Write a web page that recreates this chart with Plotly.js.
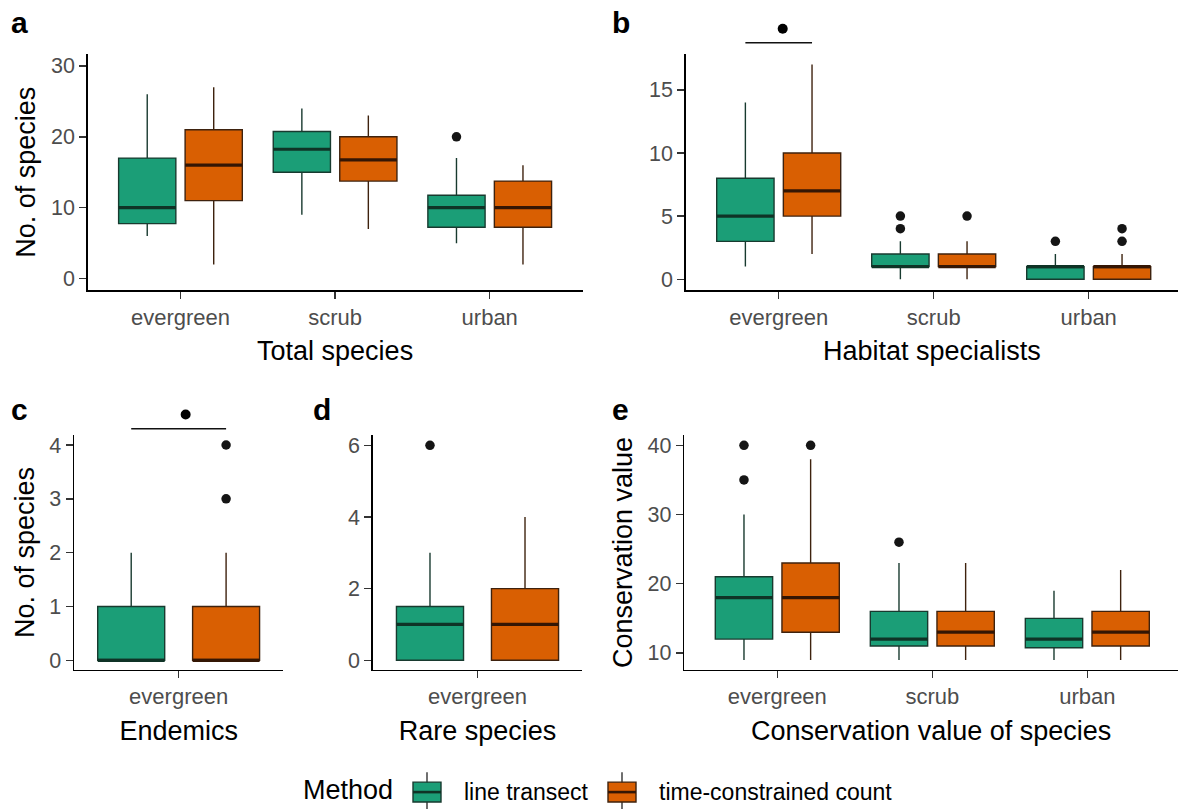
<!DOCTYPE html>
<html>
<head>
<meta charset="utf-8">
<script src="https://cdn.plot.ly/plotly-3.0.1.min.js"></script>
<style>html,body{margin:0;padding:0;background:#fff;}</style>
</head>
<body>
<div id="chart" style="width:1178px;height:812px;"></div>
<script>
// ---------------- data ----------------
const legendTitle = 'Method';
const methods = ['line transect', 'time-constrained count'];
const habitats = ['evergreen', 'scrub', 'urban'];
const habitatsEver = ['evergreen'];

// a: Total species
const aLtLow = [6, 9, 5], aLtQ1 = [7.75, 15, 7.25], aLtMed = [10, 18.25, 10], aLtQ3 = [17, 20.75, 11.75], aLtHigh = [26, 24, 17];
const aTcLow = [2, 7, 2], aTcQ1 = [11, 13.75, 7.25], aTcMed = [16, 16.75, 10], aTcQ3 = [21, 20, 13.75], aTcHigh = [27, 23, 16];
const aLtOutCat = ['urban'], aLtOutVal = [20];
const aTcOutCat = [], aTcOutVal = [];

// b: Habitat specialists
const bLtLow = [1, 0, 0], bLtQ1 = [3, 1, 0], bLtMed = [5, 1, 1], bLtQ3 = [8, 2, 1], bLtHigh = [14, 3, 2];
const bTcLow = [2, 0, 0], bTcQ1 = [5, 1, 0], bTcMed = [7, 1, 1], bTcQ3 = [10, 2, 1], bTcHigh = [17, 3, 2];
const bLtOutCat = ['scrub', 'scrub', 'urban'], bLtOutVal = [5, 4, 3];
const bTcOutCat = ['scrub', 'urban', 'urban'], bTcOutVal = [5, 4, 3];

// c: Endemics
const cLtLow = [0], cLtQ1 = [0], cLtMed = [0], cLtQ3 = [1], cLtHigh = [2];
const cTcLow = [0], cTcQ1 = [0], cTcMed = [0], cTcQ3 = [1], cTcHigh = [2];
const cLtOutCat = [], cLtOutVal = [];
const cTcOutCat = ['evergreen', 'evergreen'], cTcOutVal = [4, 3];

// d: Rare species
const dLtLow = [0], dLtQ1 = [0], dLtMed = [1], dLtQ3 = [1.5], dLtHigh = [3];
const dTcLow = [0], dTcQ1 = [0], dTcMed = [1], dTcQ3 = [2], dTcHigh = [4];
const dLtOutCat = ['evergreen'], dLtOutVal = [6];
const dTcOutCat = [], dTcOutVal = [];

// e: Conservation value of species
const eLtLow = [9, 9, 9], eLtQ1 = [12, 11, 10.75], eLtMed = [18, 12, 12], eLtQ3 = [21, 16, 15], eLtHigh = [30, 23, 19];
const eTcLow = [9, 9, 9], eTcQ1 = [13, 11, 11], eTcMed = [18, 13, 13], eTcQ3 = [23, 16, 16], eTcHigh = [38, 23, 22];
const eLtOutCat = ['evergreen', 'evergreen', 'scrub'], eLtOutVal = [40, 35, 26];
const eTcOutCat = ['evergreen'], eTcOutVal = [40];

// ---------------- styling / layout ----------------
const W = 1178, H = 812;
const FONT = 'Liberation Sans, Arial, sans-serif';
const fills = ['#1B9E77', '#D95F02'];
const outlines = ['#183a2f', '#3e220e'];
const medCols = ['#0f3326', '#341604'];

const panels = [
  { tag: 'a', xa: 'x', ya: 'y', cats: habitats, xr: [0.4, 3.6], yr: [-1.64, 31.63], xd: [87.7, 582.5], yd: [52.7, 290],
    off: 0.215, bw: 0.37, xt: 'Total species', yt: 'No. of species', yticks: [0, 10, 20, 30],
    lt: [aLtLow, aLtQ1, aLtMed, aLtQ3, aLtHigh, aLtOutCat, aLtOutVal], tc: [aTcLow, aTcQ1, aTcMed, aTcQ3, aTcHigh, aTcOutCat, aTcOutVal] },
  { tag: 'b', xa: 'x2', ya: 'y2', cats: habitats, xr: [0.4, 3.576], yr: [-0.87, 17.81], xd: [685.7, 1178], yd: [52.7, 290],
    off: 0.215, bw: 0.37, xt: 'Habitat specialists', yt: '', yticks: [0, 5, 10, 15],
    lt: [bLtLow, bLtQ1, bLtMed, bLtQ3, bLtHigh, bLtOutCat, bLtOutVal], tc: [bTcLow, bTcQ1, bTcMed, bTcQ3, bTcHigh, bTcOutCat, bTcOutVal] },
  { tag: 'c', xa: 'x3', ya: 'y3', cats: habitatsEver, xr: [0.4, 1.6], yr: [-0.17, 4.18], xd: [74, 283.3], yd: [436, 671.7],
    off: 0.272, bw: 0.384, xt: 'Endemics', yt: 'No. of species', yticks: [0, 1, 2, 3, 4],
    lt: [cLtLow, cLtQ1, cLtMed, cLtQ3, cLtHigh, cLtOutCat, cLtOutVal], tc: [cTcLow, cTcQ1, cTcMed, cTcQ3, cTcHigh, cTcOutCat, cTcOutVal] },
  { tag: 'd', xa: 'x4', ya: 'y4', cats: habitatsEver, xr: [0.4, 1.6], yr: [-0.26, 6.28], xd: [372.7, 582.3], yd: [436, 671.7],
    off: 0.272, bw: 0.384, xt: 'Rare species', yt: '', yticks: [0, 2, 4, 6],
    lt: [dLtLow, dLtQ1, dLtMed, dLtQ3, dLtHigh, dLtOutCat, dLtOutVal], tc: [dTcLow, dTcQ1, dTcMed, dTcQ3, dTcHigh, dTcOutCat, dTcOutVal] },
  { tag: 'e', xa: 'x5', ya: 'y5', cats: habitats, xr: [0.4, 3.585], yr: [7.6, 41.44], xd: [684.3, 1178], yd: [436, 671.7],
    off: 0.215, bw: 0.37, xt: 'Conservation value of species', yt: 'Conservation value', yticks: [10, 20, 30, 40],
    lt: [eLtLow, eLtQ1, eLtMed, eLtQ3, eLtHigh, eLtOutCat, eLtOutVal], tc: [eTcLow, eTcQ1, eTcMed, eTcQ3, eTcHigh, eTcOutCat, eTcOutVal] }
];

const traces = [];
const layout = {
  width: W, height: H,
  margin: { l: 0, r: 0, t: 0, b: 0 },
  paper_bgcolor: '#fff', plot_bgcolor: '#fff',
  font: { family: FONT, color: '#000' },
  boxmode: 'overlay',
  showlegend: false,
  shapes: [], annotations: []
};

function toPaperX(p, x) { return (p.xd[0] + (x - p.xr[0]) / (p.xr[1] - p.xr[0]) * (p.xd[1] - p.xd[0])) / W; }

panels.forEach((p, pi) => {
  const sfx = p.xa.slice(1);
  [p.lt, p.tc].forEach((s, mi) => {
    const sign = mi === 0 ? -1 : 1;
    const pos = p.cats.map((c, i) => i + 1 + sign * p.off);
    traces.push({
      type: 'box', xaxis: p.xa, yaxis: p.ya, name: methods[mi], legendgroup: methods[mi],
      x: pos, lowerfence: s[0], q1: s[1], median: s[2], q3: s[3], upperfence: s[4],
      width: p.bw, whiskerwidth: 0, boxpoints: false,
      fillcolor: fills[mi], line: { color: outlines[mi], width: 1.4 },
      hoverinfo: 'skip'
    });
    // thicker median line
    const mx = [], my = [];
    pos.forEach((c, i) => { mx.push(c - p.bw / 2, c + p.bw / 2, null); my.push(s[2][i], s[2][i], null); });
    traces.push({ type: 'scatter', mode: 'lines', xaxis: p.xa, yaxis: p.ya, x: mx, y: my,
      line: { color: medCols[mi], width: 3.2 }, hoverinfo: 'skip', legendgroup: methods[mi] });
    // outliers
    if (s[5].length) {
      traces.push({ type: 'scatter', mode: 'markers', xaxis: p.xa, yaxis: p.ya,
        x: s[5].map(c => p.cats.indexOf(c) + 1 + sign * p.off), y: s[6],
        marker: { color: '#151515', size: 9.5 }, cliponaxis: false, hoverinfo: 'skip' });
    }
  });

  const axX = 'xaxis' + sfx, axY = 'yaxis' + sfx;
  layout[axX] = {
    domain: [p.xd[0] / W, p.xd[1] / W], range: p.xr, anchor: p.ya, fixedrange: true,
    tickmode: 'array', tickvals: p.cats.map((c, i) => i + 1), ticktext: p.cats,
    showline: true, linecolor: '#000', linewidth: 1.5, ticks: 'outside', ticklen: 7, tickwidth: 1.4, tickcolor: '#333',
    tickfont: { family: FONT, size: 22, color: '#4d4d4d' }, showgrid: false, zeroline: false,
    title: { text: p.xt, font: { family: FONT, size: 27, color: '#000' }, standoff: 12 }, automargin: true
  };
  layout[axY] = {
    domain: [1 - p.yd[1] / H, 1 - p.yd[0] / H], range: p.yr, anchor: p.xa, fixedrange: true,
    tickmode: 'array', tickvals: p.yticks, ticktext: p.yticks.map(String),
    showline: true, linecolor: '#000', linewidth: 1.5, ticks: 'outside', ticklen: 7, tickwidth: 1.4, tickcolor: '#333',
    tickfont: { family: FONT, size: 21.5, color: '#4d4d4d' }, showgrid: false, zeroline: false,
    title: { text: p.yt, font: { family: FONT, size: 27, color: '#000' }, standoff: 7 }, automargin: true
  };
});

// panel tags
const tagPos = { a: [19, 21], b: [621, 21], c: [19, 410], d: [322, 410], e: [620, 410] };
panels.forEach(p => {
  layout.annotations.push({ xref: 'paper', yref: 'paper', x: tagPos[p.tag][0] / W, y: 1 - tagPos[p.tag][1] / H,
    xanchor: 'center', yanchor: 'middle', showarrow: false, text: '<b>' + p.tag + '</b>',
    font: { family: FONT, size: 30, color: '#000' } });
});

// significance brackets (evergreen, panels b and c)
function addSig(p, lineYpx, dotYpx, dotShiftPx) {
  const x0 = toPaperX(p, 1 - p.off), x1 = toPaperX(p, 1 + p.off), xc = toPaperX(p, 1);
  layout.shapes.push({ type: 'line', xref: 'paper', yref: 'paper', x0: x0, x1: x1, y0: 1 - lineYpx / H, y1: 1 - lineYpx / H,
    line: { color: '#111', width: 1.5 } });
  layout.shapes.push({ type: 'circle', xref: 'paper', yref: 'paper', xsizemode: 'pixel', ysizemode: 'pixel',
    xanchor: xc + dotShiftPx / W, yanchor: 1 - dotYpx / H, x0: -5, x1: 5, y0: -5, y1: 5,
    fillcolor: '#000', line: { color: '#000', width: 0 } });
}
addSig(panels[1], 41, 27, 4);
addSig(panels[2], 429.5, 415, 7);

// legend (ggplot-style keys: box + median + whiskers)
const legY = 795;
layout.annotations.push({ xref: 'paper', yref: 'paper', x: 301 / W, y: 1 - 793 / H, xanchor: 'left', yanchor: 'middle',
  showarrow: false, text: legendTitle, font: { family: FONT, size: 27, color: '#000' } });
const keyCx = [427, 622], labelX = [462, 657];
methods.forEach((m, mi) => {
  const cx = keyCx[mi];
  layout.shapes.push({ type: 'line', xref: 'paper', yref: 'paper', x0: cx / W, x1: cx / W, y0: 1 - 775 / H, y1: 1 - 812 / H,
    line: { color: '#333', width: 1.4 }, layer: 'above' });
  layout.shapes.push({ type: 'rect', xref: 'paper', yref: 'paper', x0: (cx - 14) / W, x1: (cx + 14) / W, y0: 1 - 785 / H, y1: 1 - 805 / H,
    fillcolor: fills[mi], line: { color: outlines[mi], width: 1.4 }, layer: 'above' });
  layout.shapes.push({ type: 'line', xref: 'paper', yref: 'paper', x0: (cx - 14) / W, x1: (cx + 14) / W, y0: 1 - legY / H, y1: 1 - legY / H,
    line: { color: medCols[mi], width: 2.6 }, layer: 'above' });
  layout.annotations.push({ xref: 'paper', yref: 'paper', x: labelX[mi] / W, y: 1 - legY / H, xanchor: 'left', yanchor: 'middle',
    showarrow: false, text: m, font: { family: FONT, size: 23, color: '#000' } });
});

Plotly.newPlot('chart', traces, layout, { staticPlot: true, displayModeBar: false });
</script>
</body>
</html>
